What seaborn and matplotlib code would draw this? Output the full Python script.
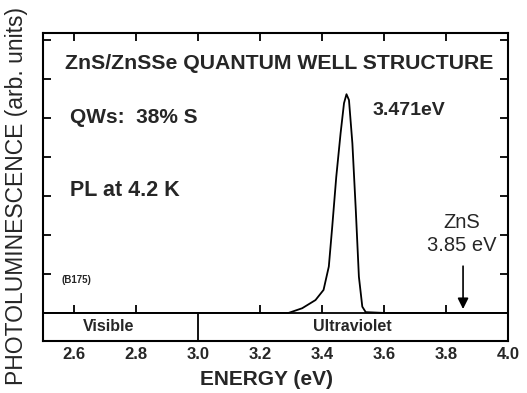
import numpy as np
import pandas as pd
import matplotlib
matplotlib.use("Agg")
import matplotlib.pyplot as plt
import seaborn as sns

# ---- data ----
energy = [2.50, 2.90, 3.00, 3.20, 3.292, 3.336, 3.379, 3.405, 3.422, 3.433, 3.446,
          3.460, 3.471, 3.479, 3.487, 3.498, 3.509, 3.519, 3.530, 3.541, 3.60,
          3.75, 3.80, 4.00]
intensity = [0.0, 0.0, 0.0, 0.0, 0.0, 0.12, 0.33, 0.59, 1.19, 2.21, 3.49,
             4.61, 5.38, 5.61, 5.46, 4.35, 2.64, 0.93, 0.16, 0.02, 0.0,
             0.0, 0.0, 0.0]
xticks = [2.6, 2.8, 3.0, 3.2, 3.4, 3.6, 3.8, 4.0]
xtick_labels = ["2.6", "2.8", "3.0", "3.2", "3.4", "3.6", "3.8", "4.0"]
baseline_ticks = [2.6, 2.8, 3.2, 3.4, 3.6, 3.8]
yticks = [1, 2, 3, 4, 5, 6, 7]
zns_gap = 3.855
uv_boundary = 3.0

sns.set_style("ticks")
plt.rcParams["font.family"] = ["Liberation Sans", "DejaVu Sans"]

df = pd.DataFrame({"energy": energy, "intensity": intensity})

fig = plt.figure(figsize=(5.27, 3.93), dpi=100)
ax = fig.add_axes([43 / 527, 1 - 341 / 393, 465 / 527, 308 / 393])

sns.lineplot(data=df, x="energy", y="intensity", ax=ax, color="black", lw=1.3)

ymin, ymax = -0.72, 7.18
ax.set_xlim(2.5, 4.0)
ax.set_ylim(ymin, ymax)

# baseline and visible/UV strip
ax.axhline(0, color="black", lw=1.3, zorder=3)
ax.vlines(uv_boundary, ymin, 0, color="black", lw=1.3, zorder=3)
ax.vlines(baseline_ticks, 0, 0.2, color="black", lw=1.3, zorder=3)

for s in ax.spines.values():
    s.set_linewidth(1.5)
    s.set_color("black")

ax.set_xticks(xticks)
ax.set_xticklabels(xtick_labels, fontsize=12, fontweight="bold")
ax.tick_params(axis="x", bottom=False, top=True, labeltop=False, direction="in",
               length=6, width=1.3, color="black", pad=4)
ax.set_yticks(yticks)
ax.set_yticklabels([])
ax.tick_params(axis="y", left=True, right=True, direction="in", length=6,
               width=1.3, color="black")

ax.set_xlabel("ENERGY (eV)", fontsize=15, fontweight="bold")
ax.xaxis.set_label_coords((267 - 43) / 465, -0.095)
ax.set_ylabel("PHOTOLUMINESCENCE (arb. units)", fontsize=16.5)
ax.yaxis.set_label_coords(-0.032, 0.472)

ax.text(2.571, 6.41, "ZnS/ZnSSe QUANTUM WELL STRUCTURE", fontsize=15.3,
        fontweight="bold", ha="left", va="center")
ax.text(2.587, 5.0, "QWs:  38% S", fontsize=15, fontweight="bold", ha="left", va="center")
ax.text(3.563, 5.2, "3.471eV", fontsize=14, fontweight="bold", ha="left", va="center")
ax.text(2.587, 3.15, "PL at 4.2 K", fontsize=15.5, fontweight="bold", ha="left", va="center")
ax.text(3.850, 2.33, "ZnS", fontsize=14.5, ha="center", va="center")
ax.text(3.850, 1.74, "3.85 eV", fontsize=14.5, ha="center", va="center")
ax.text(2.561, 0.85, "(B175)", fontsize=7, fontweight="bold", ha="left", va="center")
ax.text(2.713, -0.36, "Visible", fontsize=11.5, fontweight="bold", ha="center", va="center")
ax.text(3.498, -0.36, "Ultraviolet", fontsize=11.5, fontweight="bold", ha="center", va="center")

ax.annotate("", xy=(zns_gap, 0.1), xytext=(zns_gap, 1.2),
            arrowprops=dict(arrowstyle="-|>", color="black", lw=1.2,
                            mutation_scale=16, shrinkA=0, shrinkB=0))

fig.savefig("out.png", dpi=100)
